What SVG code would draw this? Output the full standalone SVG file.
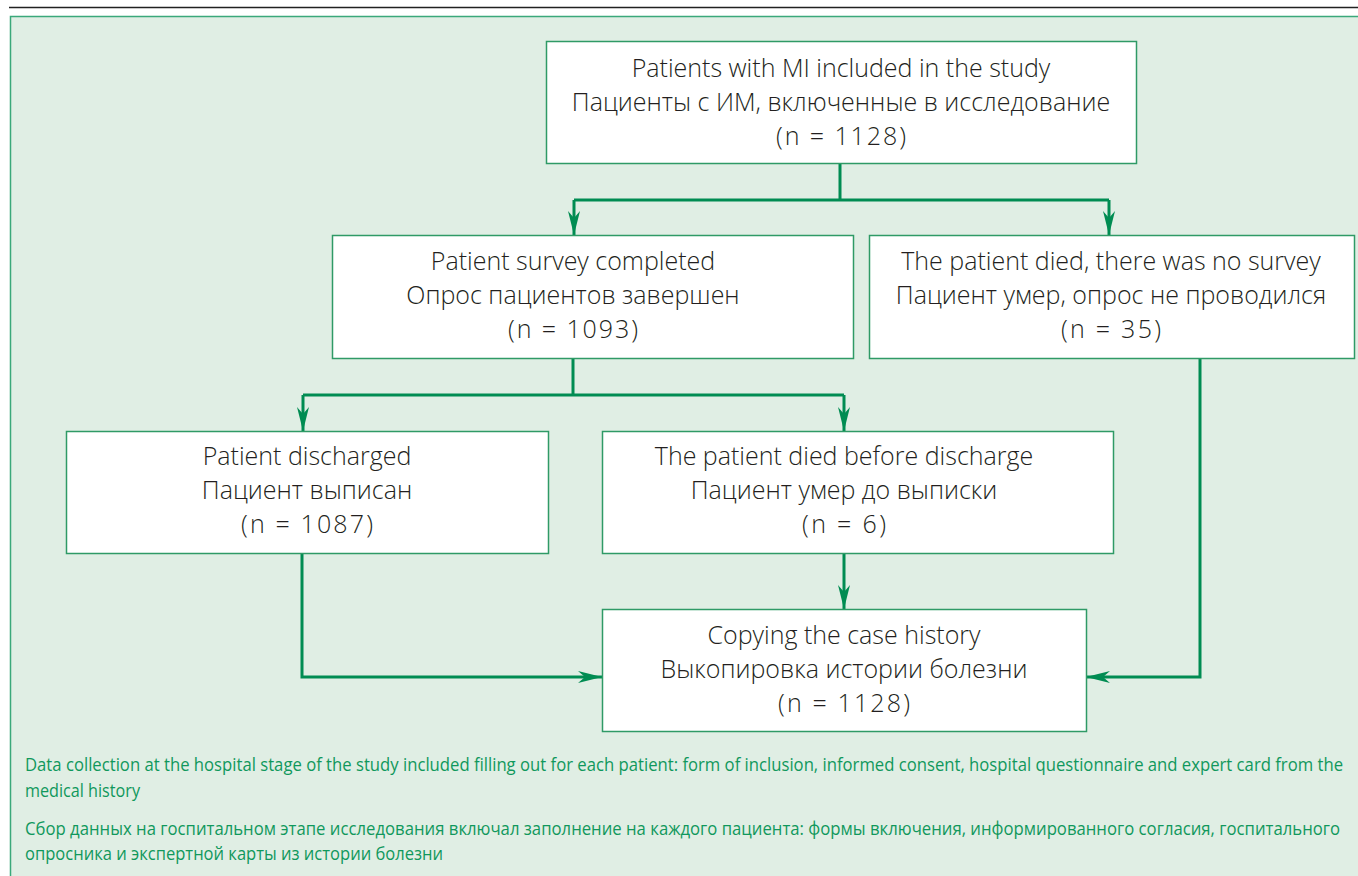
<svg xmlns="http://www.w3.org/2000/svg" width="1358" height="876" viewBox="0 0 1358 876">
<defs>
<style>
.box{fill:#ffffff;stroke:#2f9a66;stroke-width:1.5}
.t{font-family:"Open Sans","Liberation Sans",sans-serif;font-size:25px;fill:#231f20;text-anchor:middle;font-weight:300}
.c{fill:none;stroke:#008c52;stroke-width:3}
.n{font-family:"Open Sans","Liberation Sans",sans-serif;font-size:19px;fill:#10985c;font-weight:400}
</style>
<marker id="ahl" markerWidth="24" markerHeight="12" refX="24" refY="6" orient="auto" markerUnits="userSpaceOnUse" viewBox="0 0 24 12">
<path d="M0,0 L24,6 L0,12 L7,6 Z" fill="#008c52"/>
</marker>
</defs>
<rect width="1358" height="876" fill="#ffffff"/>
<line x1="9" y1="7.5" x2="1358" y2="7.5" stroke="#222" stroke-width="1.5"/>
<rect x="10.5" y="16.5" width="1360" height="880" fill="#e0eee4" stroke="#3aa87a" stroke-width="1.5"/>
<g id="connectors">
<path class="c" d="M840,163 V200 M574,200 H1109"/>
<path class="c" d="M574,200 V235" marker-end="url(#ahl)"/>
<path class="c" d="M1109,200 V235" marker-end="url(#ahl)"/>
<path class="c" d="M573,358 V395 M303,395 H844"/>
<path class="c" d="M303,395 V431" marker-end="url(#ahl)"/>
<path class="c" d="M844,395 V431" marker-end="url(#ahl)"/>
<path class="c" d="M844,553 V609" marker-end="url(#ahl)"/>
<path class="c" d="M302,553 V677 H602" marker-end="url(#ahl)"/>
<path class="c" d="M1200,358 V677 H1086" marker-end="url(#ahl)"/>
</g>
<g id="n1">
<rect class="box" x="546.5" y="41.5" width="590" height="122"/>
<text class="t" x="841" y="77">Patients with MI included in the study</text>
<text class="t" x="841" y="111">Пациенты с ИМ, включенные в исследование</text>
<text class="t" x="841" y="145" textLength="130" lengthAdjust="spacing">(n = 1128)</text>
</g>
<g id="n2">
<rect class="box" x="332.5" y="235.5" width="521" height="123"/>
<text class="t" x="573" y="270">Patient survey completed</text>
<text class="t" x="573" y="304">Опрос пациентов завершен</text>
<text class="t" x="573" y="338" textLength="130" lengthAdjust="spacing">(n = 1093)</text>
</g>
<g id="n3">
<rect class="box" x="869.5" y="235.5" width="485" height="123"/>
<text class="t" x="1111" y="270">The patient died, there was no survey</text>
<text class="t" x="1111" y="304">Пациент умер, опрос не проводился</text>
<text class="t" x="1111" y="338" textLength="100" lengthAdjust="spacing">(n = 35)</text>
</g>
<g id="n4">
<rect class="box" x="66.5" y="431.5" width="482" height="122"/>
<text class="t" x="307" y="465">Patient discharged</text>
<text class="t" x="307" y="499">Пациент выписан</text>
<text class="t" x="307" y="533" textLength="132" lengthAdjust="spacing">(n = 1087)</text>
</g>
<g id="n5">
<rect class="box" x="602.5" y="431.5" width="511" height="122"/>
<text class="t" x="844" y="465">The patient died before discharge</text>
<text class="t" x="844" y="499">Пациент умер до выписки</text>
<text class="t" x="844" y="533" textLength="84" lengthAdjust="spacing">(n = 6)</text>
</g>
<g id="n6">
<rect class="box" x="602.5" y="609.5" width="484" height="122"/>
<text class="t" x="844" y="644">Copying the case history</text>
<text class="t" x="844" y="678">Выкопировка истории болезни</text>
<text class="t" x="844" y="712" textLength="132" lengthAdjust="spacing">(n = 1128)</text>
</g>
<g id="note" transform="translate(25,0) scale(0.76,1)">
<text class="n" x="0" y="771" textLength="1734.2" lengthAdjust="spacingAndGlyphs">Data collection at the hospital stage of the study included filling out for each patient: form of inclusion, informed consent, hospital questionnaire and expert card from the</text>
<text class="n" x="0" y="797" textLength="151.3" lengthAdjust="spacingAndGlyphs">medical history</text>
<text class="n" x="0" y="835" textLength="1730.3" lengthAdjust="spacingAndGlyphs">Сбор данных на госпитальном этапе исследования включал заполнение на каждого пациента: формы включения, информированного согласия, госпитального</text>
<text class="n" x="0" y="860" textLength="550" lengthAdjust="spacingAndGlyphs">опросника и экспертной карты из истории болезни</text>
</g>
</svg>
